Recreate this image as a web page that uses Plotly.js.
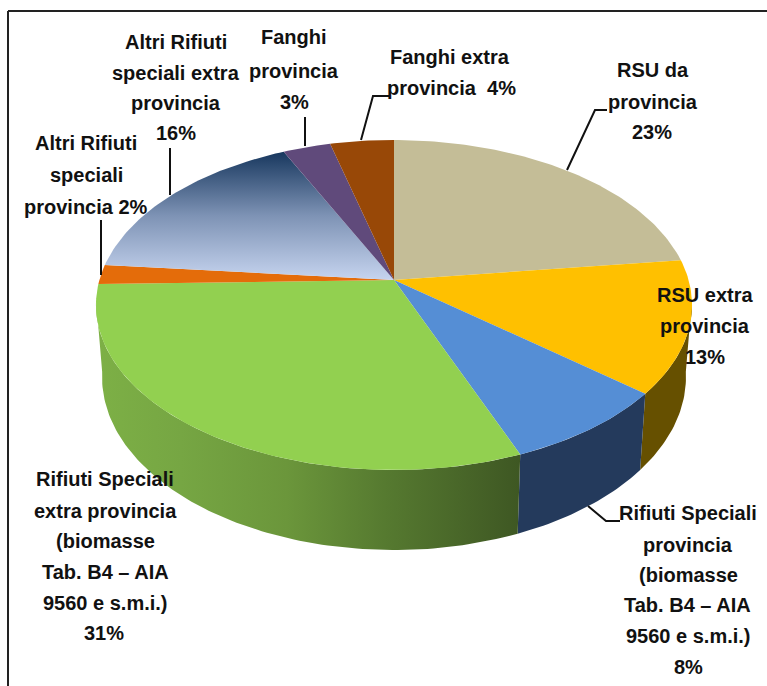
<!DOCTYPE html>
<html><head><meta charset="utf-8">
<script src="https://cdn.plot.ly/plotly-3.0.1.min.js"></script>
<style>html,body{margin:0;padding:0;background:#fff}#c{width:767px;height:686px}</style>
</head><body><div id="c"></div><script>
// data
const categories = ["RSU da provincia","RSU extra provincia","Rifiuti Speciali provincia","Rifiuti Speciali extra provincia","Altri Rifiuti speciali provincia","Altri Rifiuti speciali extra provincia","Fanghi provincia","Fanghi extra provincia"];
const values = [23,13,8,30.6,1.9,16.5,3,4];
const topColors = ["#C4BD97","#FFC000","#558ED5","#92D050","#E46C0A",null,"#604A7B","#984807"];
const wallColors = ["#6E5500","#665000","#243A5C",null,"#8A4A08","#1F3864","#3A2C4A","#5A2B04"];
const labelLines = [
 {t:"Fanghi extra",x:450,y:57},{t:"provincia  4%",x:451,y:88},
 {t:"RSU da",x:653,y:70},{t:"provincia",x:653,y:102},{t:"23%",x:652,y:132},
 {t:"RSU extra",x:705,y:295},{t:"provincia",x:705,y:326},{t:"13%",x:705,y:357},
 {t:"Rifiuti Speciali",x:688,y:513},{t:"provincia",x:688,y:545},{t:"(biomasse",x:688,y:575},{t:"Tab. B4 – AIA",x:687,y:605},{t:"9560 e s.m.i.)",x:688,y:636},{t:"8%",x:688,y:667},
 {t:"Rifiuti Speciali",x:105,y:479},{t:"extra provincia",x:105,y:511},{t:"(biomasse",x:105,y:541},{t:"Tab. B4 – AIA",x:105,y:572},{t:"9560 e s.m.i.)",x:105,y:603},{t:"31%",x:104,y:633},
 {t:"Altri Rifiuti",x:176,y:42},{t:"speciali extra",x:176,y:73},{t:"provincia",x:176,y:103},{t:"16%",x:176,y:133},
 {t:"Fanghi",x:294,y:37},{t:"provincia",x:294,y:71},{t:"3%",x:294,y:102},
 {t:"Altri Rifiuti",x:86,y:143},{t:"speciali",x:86,y:175},{t:"provincia 2%",x:86,y:207}
];
const leaders = [
 [[101,101],[220,275]],[[170,170],[148,195]],[[305,305],[117,146]],
 [[361,373,390],[140,96,96]],[[567,595,607],[170,110,110]],[[588,606,620],[506,521,521]]
];
// projection of the tilted disc
const k=-0.1515, A=294.6, cx=394, Cy=280, B=118.8, A2=288.6, C2=350.7, B2=116;
const rim=(deg,a,c,b)=>{const r=deg*Math.PI/180,u=Math.sin(r),v=-Math.cos(r),d=1+k*v;return [cx+a*u/d,(c+b*v)/d];};
const arc=(s,e,a,c,b)=>{const p=[];const n=Math.max(2,Math.ceil(Math.abs(e-s)));for(let i=0;i<=n;i++)p.push(rim(s+(e-s)*i/n,a,c,b));return p;};
const total=values.reduce((p,q)=>p+q,0);
const traces=[];
const poly=(pts,extra)=>Object.assign({x:pts.map(p=>p[0]),y:pts.map(p=>p[1]),type:'scatter',mode:'lines',fill:'toself',line:{width:0},hoverinfo:'text',showlegend:false},extra);
let run=0;const WL=97,WR=263;
const walls=[],tops=[];
values.forEach((val,i)=>{
  const s=run/total*360,e=(run+val)/total*360;run+=val;
  const ws=Math.max(s,WL),we=Math.min(e,WR);
  if(we>ws){
    const pts=arc(ws,we,A,Cy,B).concat(arc(we,ws,A2,C2,B2));
    const st={text:categories[i]};
    if(wallColors[i]) st.fillcolor=wallColors[i];
    else st.fillgradient={type:'horizontal',colorscale:[[0,'#7DB046'],[0.2,'#76A643'],[0.45,'#6B963B'],[0.68,'#567A30'],[1,'#3E5723']]};
    walls.push(poly(pts,st));
  }
  const pts=[[cx,Cy]].concat(arc(s,e,A,Cy,B)).concat([[cx,Cy]]);
  const st={text:categories[i]};
  if(topColors[i]) st.fillcolor=topColors[i];
  else st.fillgradient={type:'vertical',colorscale:[[0,'#C6D4EF'],[0.5,'#7E93B5'],[1,'#17375E']]};
  tops.push(poly(pts,st));
});
traces.push(...walls,...tops);
leaders.forEach(l=>traces.push({x:l[0],y:l[1],type:'scatter',mode:'lines',line:{color:'#111',width:2},hoverinfo:'skip',showlegend:false}));
const annotations=labelLines.map(l=>({x:l.x,y:l.y,xref:'x',yref:'y',text:'<b>'+l.t+'</b>',showarrow:false,xanchor:'center',yanchor:'middle',font:{family:'"Liberation Sans",Arial,sans-serif',size:20,color:'#111'}}));
const hidden={visible:false,fixedrange:true};
const layout={width:767,height:686,margin:{l:0,r:0,t:0,b:0},paper_bgcolor:'#fff',plot_bgcolor:'#fff',showlegend:false,
 xaxis:Object.assign({range:[0,767]},hidden),yaxis:Object.assign({range:[686,0]},hidden),annotations,
 shapes:[{type:'line',xref:'x',yref:'y',x0:8,x1:767,y0:11,y1:11,line:{color:'#222',width:2}},{type:'line',xref:'x',yref:'y',x0:8,x1:8,y0:11,y1:686,line:{color:'#222',width:2}}]};
Plotly.newPlot('c',traces,layout,{displayModeBar:false,staticPlot:true});
</script></body></html>
